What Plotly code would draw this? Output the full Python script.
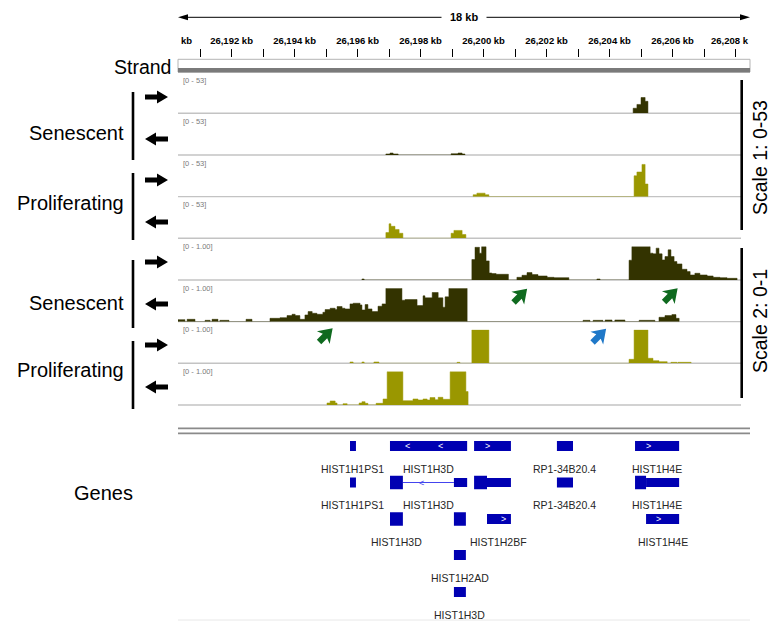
import plotly.graph_objects as go

W, H = 771, 624
def px(x): return x / W
def py(y): return 1 - y / H

FONT = "Liberation Sans, Arial, sans-serif"
SEN_COLOR = "#333300"
PRO_COLOR = "#9a9700"
GENE_COLOR = "#0000b2"

# ---------------- data ----------------
KB_LEFT, KB_RIGHT = 26190.30, 26208.46          # visible window, kb
ruler_tick_kb = list(range(26191, 26209))        # 1 kb ticks
ruler_label_kb = [26192, 26194, 26196, 26198, 26200, 26202, 26204, 26206]
ruler_label_text = ["26,192 kb", "26,194 kb", "26,196 kb", "26,198 kb",
                    "26,200 kb", "26,202 kb", "26,204 kb", "26,206 kb"]
ruler_edge_text = ["kb", "26,208 k"]
window_text = "18 kb"

# coverage: (start kb, end kb, value)
sen_fwd_s1 = [(26204.75, 26204.87, 8), (26204.87, 26205.00, 14),
              (26205.00, 26205.13, 25), (26205.13, 26205.22, 19)]
sen_rev_s1 = [(26196.90, 26197.03, 1.6), (26197.03, 26197.13, 3.1), (26197.13, 26197.29, 1.6),
              (26198.97, 26199.19, 2.0), (26199.19, 26199.32, 3.1), (26199.32, 26199.41, 1.6)]
pro_fwd_s1 = [(26199.67, 26199.79, 3), (26199.79, 26200.05, 5.5), (26200.05, 26200.17, 3),
              (26204.78, 26204.87, 33), (26204.87, 26205.03, 39), (26205.03, 26205.13, 51),
              (26205.13, 26205.22, 20)]
pro_rev_s1 = [(26196.90, 26197.00, 9), (26197.00, 26197.06, 23), (26197.06, 26197.19, 19),
              (26197.19, 26197.32, 14), (26197.32, 26197.44, 8),
              (26198.97, 26199.06, 8), (26199.06, 26199.32, 12.5), (26199.32, 26199.44, 6)]

sen_fwd_s2 = [(26196.14, 26196.21, 0.03),
              (26199.63, 26199.73, 0.61), (26199.73, 26199.87, 0.98), (26199.87, 26199.94, 0.80),
              (26199.94, 26200.08, 1.00), (26200.08, 26200.18, 0.57), (26200.18, 26200.26, 0.21),
              (26200.26, 26200.40, 0.19), (26200.40, 26200.79, 0.17),
              (26201.06, 26201.22, 0.08), (26201.22, 26201.38, 0.14), (26201.38, 26201.54, 0.22),
              (26201.54, 26201.73, 0.16), (26201.73, 26202.02, 0.12), (26202.02, 26202.24, 0.08),
              (26202.24, 26202.71, 0.07),
              (26203.60, 26203.70, 0.03),
              (26204.62, 26204.71, 0.59), (26204.71, 26205.29, 1.00), (26205.29, 26205.38, 0.80),
              (26205.38, 26205.48, 0.78), (26205.48, 26205.57, 0.95), (26205.57, 26205.67, 0.78),
              (26205.67, 26205.76, 0.60), (26205.76, 26205.86, 0.70), (26205.86, 26205.95, 0.90),
              (26205.95, 26206.05, 0.70), (26206.05, 26206.14, 0.55), (26206.14, 26206.30, 0.48),
              (26206.30, 26206.46, 0.32), (26206.46, 26206.56, 0.25), (26206.56, 26206.71, 0.15),
              (26206.71, 26206.87, 0.20), (26206.87, 26207.10, 0.15), (26207.10, 26207.29, 0.12),
              (26207.29, 26207.51, 0.08), (26207.51, 26207.73, 0.07), (26207.73, 26208.05, 0.05)]
sen_rev_s2 = [(26190.30, 26190.52, 0.06), (26190.59, 26190.84, 0.07), (26191.16, 26191.32, 0.04),
              (26191.38, 26191.57, 0.07), (26191.63, 26191.92, 0.04), (26192.46, 26192.65, 0.07),
              (26193.22, 26193.54, 0.10), (26193.54, 26193.76, 0.12), (26193.76, 26193.92, 0.18),
              (26193.92, 26194.02, 0.22), (26194.02, 26194.17, 0.18), (26194.17, 26194.33, 0.07),
              (26194.33, 26194.43, 0.20), (26194.43, 26194.56, 0.30), (26194.56, 26194.71, 0.25),
              (26194.71, 26194.90, 0.22), (26194.90, 26194.97, 0.28), (26194.97, 26195.13, 0.36),
              (26195.13, 26195.29, 0.40), (26195.29, 26195.35, 0.36), (26195.35, 26195.51, 0.45),
              (26195.51, 26195.60, 0.40), (26195.60, 26195.76, 0.38), (26195.76, 26195.86, 0.53),
              (26195.86, 26196.08, 0.55), (26196.08, 26196.14, 0.50), (26196.14, 26196.24, 0.35),
              (26196.24, 26196.33, 0.51), (26196.33, 26196.46, 0.38), (26196.46, 26196.65, 0.30),
              (26196.65, 26196.78, 0.46), (26196.78, 26196.90, 0.53), (26196.90, 26197.41, 1.00),
              (26197.41, 26197.51, 0.64), (26197.51, 26197.89, 0.66), (26197.89, 26198.08, 0.48),
              (26198.08, 26198.14, 0.77), (26198.14, 26198.37, 0.71), (26198.37, 26198.56, 0.87),
              (26198.56, 26198.71, 0.71), (26198.71, 26198.78, 0.43), (26198.78, 26198.90, 0.74),
              (26198.90, 26199.48, 1.00),
              (26203.16, 26203.38, 0.04), (26203.48, 26203.79, 0.04), (26203.86, 26204.08, 0.05),
              (26204.17, 26204.49, 0.05), (26204.94, 26205.44, 0.04), (26205.57, 26205.76, 0.13),
              (26205.76, 26205.98, 0.18), (26205.98, 26206.11, 0.21), (26206.11, 26206.21, 0.10)]
pro_fwd_s2 = [(26195.76, 26195.86, 0.04), (26196.14, 26196.21, 0.04), (26196.52, 26196.68, 0.04),
              (26199.16, 26199.25, 0.03), (26199.63, 26200.17, 1.00),
              (26204.62, 26204.78, 0.12), (26204.78, 26205.22, 1.00), (26205.22, 26205.38, 0.15),
              (26205.38, 26205.57, 0.08), (26205.57, 26205.83, 0.05), (26205.95, 26206.14, 0.03),
              (26206.17, 26206.59, 0.03)]
pro_rev_s2 = [(26195.03, 26195.13, 0.06), (26195.13, 26195.29, 0.12), (26195.29, 26195.35, 0.06),
              (26195.54, 26195.67, 0.04), (26196.05, 26196.14, 0.06), (26196.14, 26196.24, 0.10),
              (26196.24, 26196.33, 0.05), (26196.59, 26196.81, 0.05), (26196.81, 26196.94, 0.18),
              (26196.94, 26197.44, 1.00), (26197.44, 26197.76, 0.13), (26197.76, 26197.92, 0.18),
              (26197.92, 26198.08, 0.15), (26198.08, 26198.21, 0.18), (26198.21, 26198.30, 0.15),
              (26198.30, 26198.46, 0.22), (26198.46, 26198.56, 0.16), (26198.56, 26198.71, 0.23),
              (26198.71, 26198.94, 0.17), (26198.94, 26199.44, 1.00), (26199.44, 26199.51, 0.40)]

track_series = [sen_fwd_s1, sen_rev_s1, pro_fwd_s1, pro_rev_s1,
                sen_fwd_s2, sen_rev_s2, pro_fwd_s2, pro_rev_s2]
track_condition = ["sen", "sen", "pro", "pro", "sen", "sen", "pro", "pro"]
track_max = [53, 53, 53, 53, 1.0, 1.0, 1.0, 1.0]
track_range_text = ["[0 - 53]"] * 4 + ["[0 - 1.00]"] * 4

group_names = ["Senescent", "Proliferating", "Senescent", "Proliferating"]
scale_names = ["Scale 1: 0-53", "Scale 2: 0-1"]

# genes: (row, start kb, end kb, block size)
gene_blocks = [
    (1, 26195.76, 26195.95, "mid"), (1, 26197.03, 26199.48, "mid"), (1, 26199.70, 26200.87, "mid"),
    (1, 26202.33, 26202.84, "mid"), (1, 26204.81, 26206.21, "mid"),
    (2, 26195.76, 26195.95, "mid"), (2, 26197.03, 26197.44, "tall"), (2, 26199.06, 26199.48, "short"),
    (2, 26199.70, 26200.11, "tall"), (2, 26200.11, 26200.87, "short"), (2, 26202.33, 26202.84, "mid"),
    (2, 26204.81, 26205.16, "tall"), (2, 26205.16, 26206.21, "short"),
    (3, 26197.03, 26197.44, "tall"), (3, 26199.06, 26199.44, "tall"), (3, 26200.11, 26200.87, "mid"),
    (3, 26205.16, 26206.21, "mid"),
    (4, 26199.06, 26199.44, "mid"),
    (5, 26199.06, 26199.44, "mid"),
]
gene_introns = [(2, 26197.44, 26199.06)]
# strand chevrons: (row, kb, glyph, on_line)
gene_chevrons = [(1, 26197.60, "<", False), (1, 26198.62, "<", False), (1, 26200.14, ">", False),
                 (1, 26205.25, ">", False), (2, 26198.02, "<", True),
                 (3, 26200.62, ">", False), (3, 26205.54, ">", False)]
# labels: (row, feature start kb, feature end kb, name)
gene_labels = [
    (1, 26195.76, 26195.95, "HIST1H1PS1"), (1, 26197.03, 26199.48, "HIST1H3D"),
    (1, 26202.33, 26202.84, "RP1-34B20.4"), (1, 26204.81, 26206.21, "HIST1H4E"),
    (2, 26195.76, 26195.95, "HIST1H1PS1"), (2, 26197.03, 26199.48, "HIST1H3D"),
    (2, 26202.33, 26202.84, "RP1-34B20.4"), (2, 26204.81, 26206.21, "HIST1H4E"),
    (3, 26197.03, 26197.44, "HIST1H3D"), (3, 26200.11, 26200.87, "HIST1H2BF"),
    (3, 26205.16, 26206.21, "HIST1H4E"),
    (4, 26199.06, 26199.44, "HIST1H2AD"),
    (5, 26199.06, 26199.44, "HIST1H3D"),
]

# ---------------- layout / style ----------------
X_LEFT, X_TRACK_RIGHT, X_RIGHT = 178, 741, 750
kb_per_px = (KB_RIGHT - KB_LEFT) / (X_RIGHT - X_LEFT)
KB_TRACK_RIGHT = KB_LEFT + (X_TRACK_RIGHT - X_LEFT) * kb_per_px
baselines = [113.3 + i * 41.67 for i in range(8)]
FULL_PX = 33.5
row_center = {1: 446, 2: 482.5, 3: 519, 4: 555, 5: 592}
block_h = {"tall": 13.5, "mid": 10, "short": 9}
cond_color = {"sen": SEN_COLOR, "pro": PRO_COLOR}


def step(segs):
    xs, ys = [], []
    prev = None
    for s, e, v in segs:
        if prev is None or s > prev + 1e-9:
            if prev is not None:
                xs.append(prev); ys.append(0)
            xs.append(s); ys.append(0)
        xs.append(s); ys.append(v)
        prev = e
    xs.append(prev); ys.append(0)
    return xs, ys


fig = go.Figure()
layout = dict(
    width=W, height=H, margin=dict(l=0, r=0, t=0, b=0),
    paper_bgcolor="white", plot_bgcolor="rgba(0,0,0,0)", showlegend=False,
    xaxis=dict(domain=[px(X_LEFT), px(X_TRACK_RIGHT)], range=[KB_LEFT, KB_TRACK_RIGHT],
               visible=False, fixedrange=True, anchor="y2"),
    xaxis2=dict(domain=[px(X_LEFT), px(X_RIGHT)], range=[KB_LEFT, KB_RIGHT], anchor="y10",
                side="top", showgrid=False, zeroline=False, showline=False,
                tickmode="array", tickvals=ruler_tick_kb,
                ticktext=[ruler_label_text[ruler_label_kb.index(t)] if t in ruler_label_kb else ""
                          for t in ruler_tick_kb],
                ticks="inside", ticklen=8, tickwidth=1, tickcolor="black",
                ticklabelstandoff=2,
                tickfont=dict(family=FONT, size=9.5, color="black", weight="bold"),
                fixedrange=True),
    yaxis10=dict(domain=[py(57), py(49)], range=[0, 1], visible=False, fixedrange=True),
)

for i, segs in enumerate(track_series):
    ax = i + 2
    b = baselines[i]
    layout[f"yaxis{ax}"] = dict(domain=[py(b), py(b - FULL_PX)], range=[0, track_max[i]],
                                visible=False, fixedrange=True)
    xs, ys = step(segs)
    col = cond_color[track_condition[i]]
    fig.add_trace(go.Scatter(x=xs, y=ys, xaxis="x", yaxis=f"y{ax}", mode="lines",
                             line=dict(color=col, width=0.5, shape="hv"),
                             fill="tozeroy", fillcolor=col, hoverinfo="skip"))

# dummy trace to realise the ruler axis
fig.add_trace(go.Scatter(x=[KB_LEFT], y=[-5], xaxis="x2", yaxis="y10", mode="markers",
                         marker=dict(opacity=0), hoverinfo="skip"))

shapes = []
ann = []

def pline(x0, y0, x1, y1, color, width, layer="above"):
    shapes.append(dict(type="line", xref="paper", yref="paper", x0=px(x0), y0=py(y0),
                       x1=px(x1), y1=py(y1), line=dict(color=color, width=width), layer=layer))

def ppoly(pts, color):
    d = "M " + " L ".join(f"{px(x):.5f},{py(y):.5f}" for x, y in pts) + " Z"
    shapes.append(dict(type="path", xref="paper", yref="paper", path=d,
                       fillcolor=color, line=dict(width=0), layer="above"))

def text(x, y, s, size, xanchor="center", color="black", angle=0, weight="normal", **kw):
    ann.append(dict(x=px(x), y=py(y), xref="paper", yref="paper", text=s, showarrow=False,
                    xanchor=xanchor, yanchor="middle", textangle=angle,
                    font=dict(family=FONT, size=size, color=color, weight=weight), **kw))

# ruler arrow
RY = 17.3
pline(186, RY, 742, RY, "black", 1)
ppoly([(178, RY), (188, RY - 3), (188, RY + 3)], "black")
ppoly([(750, RY), (740, RY - 3), (740, RY + 3)], "black")
text(464, RY, window_text, 11, weight="bold", bgcolor="white", borderpad=8)
# clipped edge labels of ruler
text(179, 41, ruler_edge_text[0], 9.5, xanchor="left", weight="bold")
text(751, 41, ruler_edge_text[1], 9.5, xanchor="right", weight="bold")

# strand track
shapes.append(dict(type="rect", xref="paper", yref="paper", x0=px(178), x1=px(750),
                   y0=py(72), y1=py(59.3), line=dict(color="#b4b4b4", width=1)))
shapes.append(dict(type="rect", xref="paper", yref="paper", x0=px(178), x1=px(750),
                   y0=py(72.5), y1=py(68), fillcolor="#7a7a7a", line=dict(width=0)))
text(172.5, 67, "Strand", 19.5, xanchor="right")

# track baselines and range labels
prev = 72
for i, b in enumerate(baselines):
    pline(X_LEFT, b, X_TRACK_RIGHT, b, "#c3c3c3", 1.4, layer="below")
    text(180.5, prev + 8.2, track_range_text[i], 7.5, xanchor="left", color="#7a7a7a")
    prev = b

# left group labels, bars, strand arrows
group_bar = [(92, 160), (173, 240), (260, 328), (341, 409)]
group_text_y = [133, 203, 303, 370]
fwd_y = [97, 180, 262, 345]
rev_y = [139, 222, 304, 387]
for g in range(4):
    pline(133, group_bar[g][0], 133, group_bar[g][1], "black", 2.6)
    text(125.5, group_text_y[g], group_names[g], 20, xanchor="right")
    y = fwd_y[g]
    ppoly([(145, y - 2.5), (157, y - 2.5), (157, y - 6.5), (168, y), (157, y + 6.5),
           (157, y + 2.5), (145, y + 2.5)], "black")
    y = rev_y[g]
    ppoly([(168, y - 2.5), (156, y - 2.5), (156, y - 6.5), (145, y), (156, y + 6.5),
           (156, y + 2.5), (168, y + 2.5)], "black")

# right scale bars
scale_bar = [(80, 230), (248, 398)]
scale_text_y = [158, 321]
for k in range(2):
    pline(741.7, scale_bar[k][0], 741.7, scale_bar[k][1], "black", 2.6)
    text(760, scale_text_y[k], scale_names[k], 19.5, angle=-90)

# highlight cursors
def cursor(cx, cy, color, s=1.2):
    local = [(9, 0), (-2, -7.5), (0, -2.6), (-7, -2.6), (-7, 2.6), (0, 2.6), (-2, 7.5)]
    r = 0.70710678
    pts = []
    for a, b in local:
        a *= s; b *= s
        pts.append((cx + a * r + b * r, cy - a * r + b * r))
    ppoly(pts, color)

GREEN = "#0f6a1f"
BLUE = "#1f78c8"
cursor(325, 336, GREEN)
cursor(519.5, 296.5, GREEN)
cursor(670, 296, GREEN)
cursor(598.5, 336.5, BLUE)

# gene section
pline(X_LEFT, 428.3, X_RIGHT, 428.3, "#8a8a8a", 1.8)
pline(X_LEFT, 433.3, X_RIGHT, 433.3, "#8a8a8a", 1.8)
pline(X_LEFT, 620, X_RIGHT, 620, "#e8e8e8", 1)
text(103, 493, "Genes", 20)

for row, s, e in gene_introns:
    yc = row_center[row]
    shapes.append(dict(type="line", xref="x2", yref="paper", x0=s, x1=e, y0=py(yc), y1=py(yc),
                       line=dict(color="#4444ee", width=1)))
for row, s, e, size in gene_blocks:
    yc = row_center[row]
    h = block_h[size]
    shapes.append(dict(type="rect", xref="x2", yref="paper", x0=s, x1=e,
                       y0=py(yc + h / 2), y1=py(yc - h / 2), fillcolor=GENE_COLOR,
                       line=dict(width=0)))
for row, kb, glyph, on_line in gene_chevrons:
    yc = row_center[row]
    ann.append(dict(x=kb, y=py(yc), xref="x2", yref="paper", text=glyph, showarrow=False,
                    xanchor="center", yanchor="middle",
                    font=dict(family=FONT, size=9, color="#4444ee" if on_line else "white")))
for row, s, e, name in gene_labels:
    yc = row_center[row] + 22.5
    ann.append(dict(x=(s + e) / 2, y=py(yc), xref="x2", yref="paper", text=name,
                    showarrow=False, xanchor="center", yanchor="middle",
                    font=dict(family=FONT, size=10.5, color="#262626")))

layout["shapes"] = shapes
layout["annotations"] = ann
fig.update_layout(**layout)
fig.write_html("out.html", config={"displayModeBar": False},
               post_script="document.body.style.margin='0px';document.body.style.overflow='hidden';")
